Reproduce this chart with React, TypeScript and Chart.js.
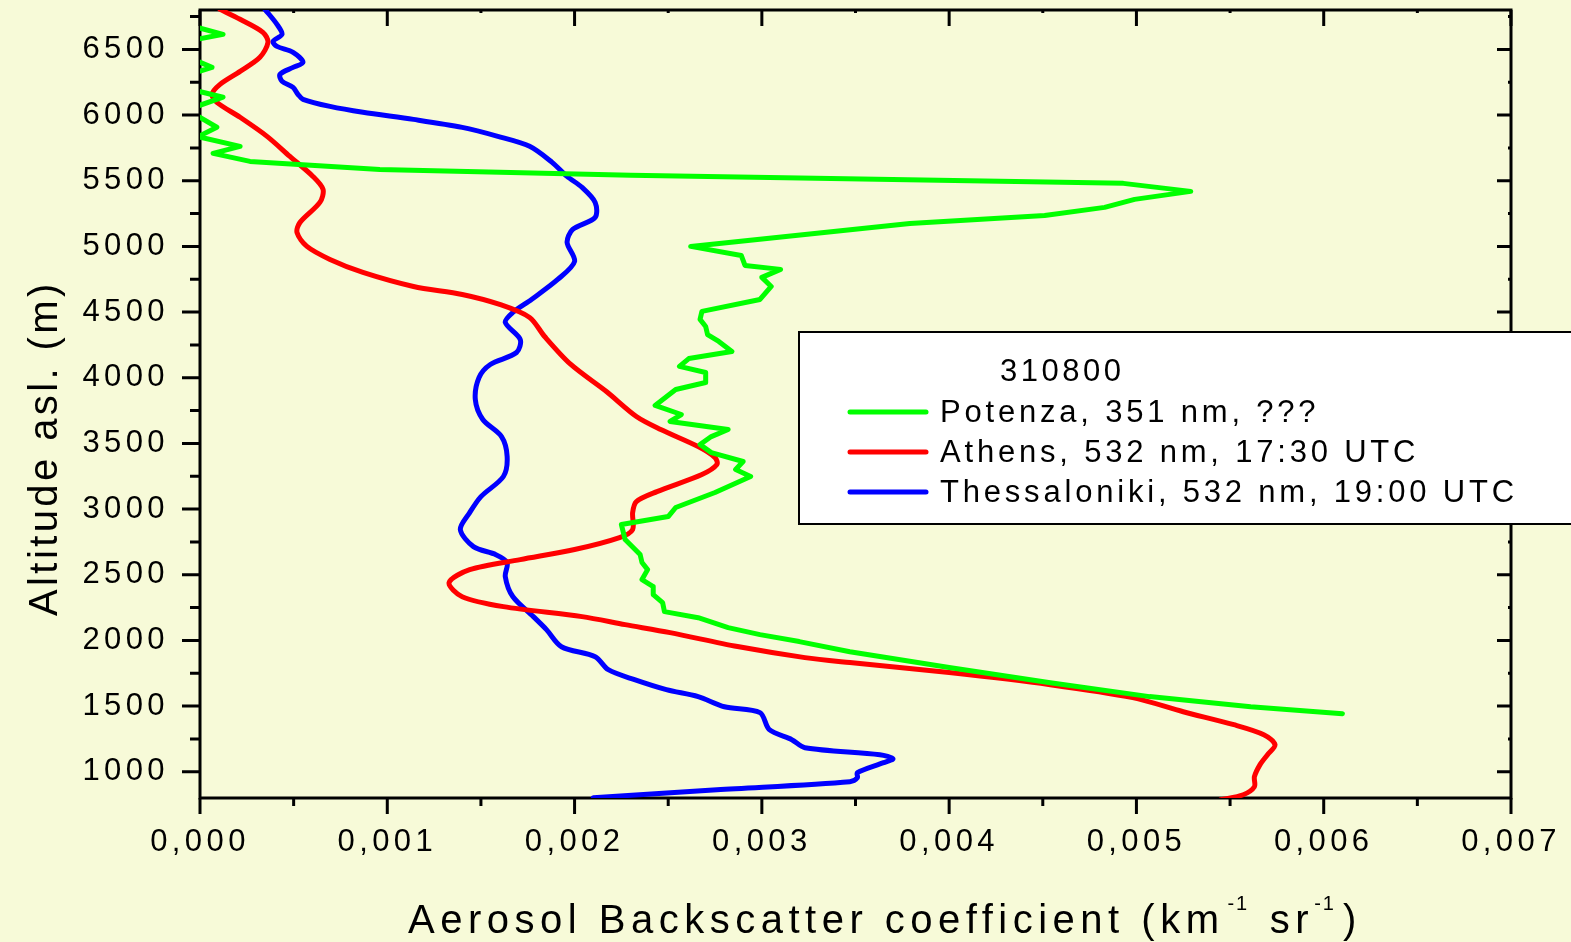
import { useEffect, useRef } from "react";
import { Chart, registerables } from "chart.js";

Chart.register(...registerables);

// ---- data (altitude in m asl, backscatter in km^-1 sr^-1) ----
const potenzaAlt = [6700, 6615, 6560, 6440, 6363, 6300, 6200, 6136, 6045, 5990, 5907, 5835, 5762, 5708, 5647, 5586, 5541, 5480, 5419, 5358, 5297, 5236, 5175, 5000, 4931, 4855, 4825, 4764, 4695, 4596, 4505, 4444, 4390, 4329, 4276, 4200, 4146, 4086, 4040, 3964, 3910, 3789, 3720, 3667, 3606, 3552, 3491, 3430, 3362, 3301, 3248, 3126, 3012, 2943, 2882, 2768, 2654, 2593, 2539, 2463, 2410, 2349, 2288, 2219, 2173, 2097, 2044, 1991, 1914, 1793, 1678, 1572, 1495, 1442];
const potenzaBeta = [-0.0001, 0.000123, -0.00008, -0.00006, 0.000064, -0.00008, -0.00006, 0.000123, -0.00006, -0.00001, 0.00009, -0.00001, 0.000214, 0.00007, 0.000267, 0.00096, 0.0023, 0.00493, 0.00529, 0.00499, 0.00483, 0.00451, 0.00379, 0.00262, 0.00289, 0.00291, 0.0031, 0.003, 0.00305, 0.00299, 0.00268, 0.00267, 0.0027, 0.00271, 0.00277, 0.00284, 0.00261, 0.00256, 0.0027, 0.0027, 0.00254, 0.00243, 0.00257, 0.00251, 0.00282, 0.00273, 0.00267, 0.00273, 0.0029, 0.00286, 0.00294, 0.00275, 0.00254, 0.0025, 0.00225, 0.00227, 0.00235, 0.00236, 0.00239, 0.00236, 0.00242, 0.00242, 0.00247, 0.00248, 0.00266, 0.00282, 0.00299, 0.0032, 0.00347, 0.004, 0.00454, 0.00507, 0.00561, 0.0061];

const athensAlt = [6805, 6729, 6630, 6554, 6440, 6333, 6234, 6158, 6097, 5983, 5838, 5685, 5533, 5434, 5335, 5183, 5106, 5000, 4901, 4802, 4695, 4634, 4558, 4459, 4314, 4101, 3895, 3705, 3606, 3476, 3392, 3339, 3263, 3133, 3057, 2973, 2844, 2783, 2692, 2615, 2539, 2440, 2333, 2257, 2181, 2120, 2059, 1953, 1869, 1831, 1755, 1663, 1564, 1457, 1358, 1282, 1206, 1130, 1054, 962, 886, 825, 787];
const athensBeta = [0.000107, 0.000214, 0.000336, 0.000363, 0.00032, 0.000214, 0.000107, 0.000064, 0.00009, 0.000214, 0.000358, 0.00048, 0.000603, 0.000657, 0.00064, 0.000534, 0.000518, 0.000571, 0.000694, 0.00087, 0.00114, 0.0014, 0.0016, 0.00176, 0.00184, 0.00198, 0.00217, 0.00233, 0.00246, 0.00266, 0.00275, 0.00276, 0.00268, 0.00244, 0.00233, 0.00231, 0.00231, 0.00224, 0.002, 0.00171, 0.00144, 0.00133, 0.0014, 0.00162, 0.00204, 0.00227, 0.00251, 0.00287, 0.00323, 0.00347, 0.004, 0.00454, 0.00498, 0.00525, 0.00552, 0.00568, 0.00574, 0.0057, 0.00566, 0.00563, 0.00563, 0.00557, 0.00545];

const thessAlt = [6805, 6691, 6615, 6561, 6523, 6478, 6402, 6363, 6310, 6257, 6211, 6158, 6120, 6066, 6021, 5967, 5906, 5838, 5762, 5640, 5533, 5449, 5335, 5221, 5129, 5030, 4885, 4748, 4596, 4497, 4421, 4291, 4192, 4101, 4002, 3834, 3682, 3552, 3400, 3248, 3095, 2973, 2844, 2714, 2653, 2593, 2486, 2334, 2181, 2082, 1952, 1876, 1777, 1701, 1625, 1572, 1495, 1450, 1320, 1244, 1183, 1130, 1099, 1069, 993, 954, 924, 863, 802];
const thessBeta = [0.000347, 0.000411, 0.000438, 0.00039, 0.000411, 0.000497, 0.00055, 0.000497, 0.000427, 0.000438, 0.000497, 0.000523, 0.00055, 0.000694, 0.00087, 0.00114, 0.0014, 0.00159, 0.00176, 0.00188, 0.00196, 0.00204, 0.00211, 0.00211, 0.00199, 0.00196, 0.002, 0.00191, 0.00177, 0.00167, 0.00163, 0.00171, 0.00169, 0.00155, 0.00149, 0.00147, 0.00151, 0.00161, 0.00164, 0.00162, 0.0015, 0.00144, 0.00139, 0.00146, 0.00158, 0.00164, 0.00163, 0.00167, 0.00178, 0.00185, 0.00193, 0.00211, 0.00218, 0.00232, 0.00249, 0.00266, 0.0028, 0.00299, 0.00304, 0.00316, 0.00323, 0.00363, 0.0037, 0.00365, 0.00351, 0.00351, 0.00347, 0.00276, 0.0021];

const xTicks = [0, 0.001, 0.002, 0.003, 0.004, 0.005, 0.006, 0.007];
const xMinorTicks = [0.0005, 0.0015, 0.0025, 0.0035, 0.0045, 0.0055, 0.0065];
const yTicks = [1000, 1500, 2000, 2500, 3000, 3500, 4000, 4500, 5000, 5500, 6000, 6500];
const yMinorTicks = [1250, 1750, 2250, 2750, 3250, 3750, 4250, 4750, 5250, 5750, 6250, 6750];

const seriesLabels = ["Potenza, 351 nm, ???", "Athens, 532 nm, 17:30 UTC", "Thessaloniki, 532 nm, 19:00 UTC"];
const seriesColors = ["#00FF00", "#FF0000", "#0000FF"];
const legendTitle = "310800";
const yAxisTitle = "Altitude asl. (m)";
// [text, superscript, gap before]
const xAxisTitleParts: [string, boolean, number][] = [
  ["Aerosol Backscatter coefficient (km", false, 0],
  ["-1", true, 3],
  [" sr", false, 4],
  ["-1", true, 0],
  [")", false, 7],
];

const FONT = '"Liberation Sans", Arial, sans-serif';
const BG = "#F7FAD8";

const toPoints = (alt: number[], beta: number[]) => alt.map((a, i) => ({ x: beta[i], y: a }));

const decor = {
  id: "decor",
  beforeDraw(chart: any) {
    const ctx = chart.ctx;
    ctx.save();
    ctx.fillStyle = BG;
    ctx.fillRect(0, 0, chart.width, chart.height);
    ctx.restore();
    ctx.letterSpacing = "4.4px";
  },
  beforeDatasetsDraw(chart: any) {
    const ctx = chart.ctx;
    const { left, right, top, bottom } = chart.chartArea;
    const xs = chart.scales.x;
    const ys = chart.scales.y;
    ctx.save();
    ctx.strokeStyle = "#000";
    ctx.lineWidth = 3;
    ctx.lineCap = "butt";
    ctx.beginPath();
    xTicks.forEach((v) => {
      const px = xs.getPixelForValue(v);
      ctx.moveTo(px, bottom); ctx.lineTo(px, bottom + 16);
      ctx.moveTo(px, top); ctx.lineTo(px, top + 16);
    });
    xMinorTicks.forEach((v) => {
      const px = xs.getPixelForValue(v);
      ctx.moveTo(px, bottom); ctx.lineTo(px, bottom + 8);
      ctx.moveTo(px, top); ctx.lineTo(px, top + 3);
    });
    yTicks.forEach((v) => {
      const py = ys.getPixelForValue(v);
      ctx.moveTo(left - 18, py); ctx.lineTo(left, py);
      ctx.moveTo(right, py); ctx.lineTo(right - 14, py);
    });
    yMinorTicks.forEach((v) => {
      const py = ys.getPixelForValue(v);
      ctx.moveTo(left - 10, py); ctx.lineTo(left, py);
      ctx.moveTo(right, py); ctx.lineTo(right - 3, py);
    });
    ctx.stroke();
    ctx.strokeRect(left, top, right - left, bottom - top);
    ctx.restore();
  },
  afterDraw(chart: any) {
    const ctx = chart.ctx;
    ctx.save();
    // legend box
    ctx.fillStyle = "#FFFFFF";
    ctx.fillRect(799, 332, 900, 192);
    ctx.strokeStyle = "#000";
    ctx.lineWidth = 2;
    ctx.strokeRect(799, 332, 900, 192);
    ctx.fillStyle = "#000";
    ctx.textBaseline = "middle";
    ctx.textAlign = "left";
    ctx.font = `31px ${FONT}`;
    ctx.letterSpacing = "3.5px";
    ctx.fillText(legendTitle, 1000, 372);
    chart.data.datasets.forEach((ds: any, i: number) => {
      const y = 412 + i * 40;
      ctx.strokeStyle = ds.borderColor;
      ctx.lineWidth = 5;
      ctx.lineCap = "round";
      ctx.beginPath();
      ctx.moveTo(850, y);
      ctx.lineTo(926, y);
      ctx.stroke();
      ctx.fillStyle = "#000";
      ctx.letterSpacing = "3.8px";
      ctx.fillText(ds.label, 940, y + 1);
    });
    // x axis title
    ctx.textBaseline = "alphabetic";
    let x = 408;
    const base = 933;
    xAxisTitleParts.forEach(([text, sup, gap]) => {
      x += gap;
      ctx.font = sup ? `20px ${FONT}` : `40px ${FONT}`;
      ctx.letterSpacing = sup ? "2px" : "5.5px";
      ctx.fillText(text, x, sup ? base - 23 : base);
      x += ctx.measureText(text).width;
    });
    // y axis title
    ctx.translate(57, 616);
    ctx.rotate(-Math.PI / 2);
    ctx.font = `40px ${FONT}`;
    ctx.letterSpacing = "3.4px";
    ctx.fillText(yAxisTitle, 0, 0);
    ctx.restore();
  },
};

export default function App() {
  const ref = useRef<HTMLCanvasElement>(null);
  useEffect(() => {
    document.body.style.margin = "0";
    const datasets = [
      { label: seriesLabels[0], data: toPoints(potenzaAlt, potenzaBeta), borderColor: seriesColors[0], tension: 0 },
      { label: seriesLabels[1], data: toPoints(athensAlt, athensBeta), borderColor: seriesColors[1], tension: 0.3 },
      { label: seriesLabels[2], data: toPoints(thessAlt, thessBeta), borderColor: seriesColors[2], tension: 0.3 },
    ].map((d) => ({
      ...d,
      backgroundColor: d.borderColor,
      showLine: true,
      fill: false,
      pointRadius: 0,
      borderWidth: 5,
      borderJoinStyle: "round" as const,
      borderCapStyle: "round" as const,
    }));
    const chart = new Chart(ref.current!, {
      type: "scatter",
      data: { datasets },
      options: {
        responsive: false,
        animation: false,
        events: [],
        layout: { padding: { left: 0, right: 60, top: 10, bottom: 0 } },
        plugins: { legend: { display: false }, tooltip: { enabled: false }, title: { display: false } },
        scales: {
          x: {
            type: "linear",
            min: 0,
            max: 0.007,
            afterBuildTicks: (s: any) => { s.ticks = xTicks.map((v) => ({ value: v })); },
            afterFit: (s: any) => { s.height = 144; s.paddingLeft = 0; s.paddingRight = 0; },
            grid: { display: false, drawTicks: false },
            border: { display: false },
            ticks: {
              padding: 26,
              color: "#000",
              font: { family: FONT, size: 31 },
              maxRotation: 0,
              autoSkip: false,
              callback: (v: any) => Number(v).toFixed(3).replace(".", ","),
            },
          },
          y: {
            type: "linear",
            min: 800,
            max: 6800,
            afterBuildTicks: (s: any) => { s.ticks = yTicks.map((v) => ({ value: v })); },
            afterFit: (s: any) => { s.width = 200; s.paddingTop = 0; s.paddingBottom = 0; },
            grid: { display: false, drawTicks: false },
            border: { display: false },
            ticks: {
              padding: 31,
              color: "#000",
              font: { family: FONT, size: 31 },
              autoSkip: false,
              callback: (v: any) => String(v),
            },
          },
        },
      },
      plugins: [decor],
    });
    return () => chart.destroy();
  }, []);
  return <canvas ref={ref} width={1571} height={942} style={{ display: "block", width: 1571, height: 942 }} />;
}
